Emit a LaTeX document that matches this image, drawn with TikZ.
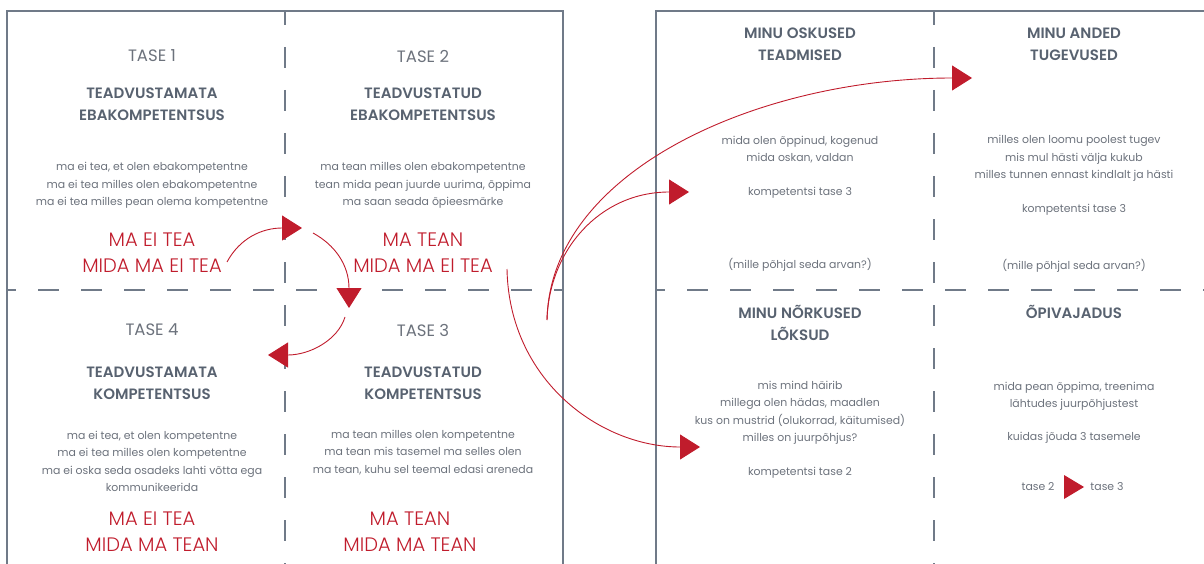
\documentclass[tikz,border=0pt]{standalone}
\usepackage{fontspec}
\setmainfont{Poppins}[BoldFont={* SemiBold}]
\newfontfamily\thinfont{Poppins Light}
\usetikzlibrary{arrows.meta}
\definecolor{framec}{RGB}{112,122,136}
\definecolor{headc}{RGB}{88,98,112}
\definecolor{bodyc}{RGB}{108,114,124}
\definecolor{accent}{RGB}{192,28,44}
\tikzset{
  panel/.style={line width=2pt, draw=framec},
  divider/.style={line width=2pt, draw=framec, dash pattern=on 21pt off 22pt},
  level/.style={text=bodyc, font=\fontsize{16.5}{18}\selectfont, inner sep=0pt},
  heading/.style={text=headc, font=\bfseries\fontsize{15}{22}\selectfont, align=center, inner sep=0pt},
  body/.style={text=bodyc, font=\fontsize{10.9}{17.5}\selectfont, align=center, inner sep=0pt},
  motto/.style={text=accent, font=\thinfont\fontsize{19.5}{26}\selectfont, align=center, inner sep=0pt},
  flow/.style={draw=accent, line width=0.9pt, -{Triangle[length=20pt,width=25pt]}},
  marker/.style={fill=accent},
}
\begin{document}
\begin{tikzpicture}[x=1pt,y=-1pt]
\useasboundingbox (0,0) rectangle (1204,564);

% ---------- left panel: four levels of competence ----------
\draw[panel] (7,564) -- (7,11) -- (563,11) -- (563,564);
\draw[divider, dash phase=7pt] (285,11) -- (285,564);
\draw[divider, dash phase=12pt] (7,290) -- (563,290);

% level 1
\node[level] (l1) at (152,56) {TASE 1};
\node[heading] (h1) at (152,104) {TEADVUSTAMATA\\EBAKOMPETENTSUS};
\node[body] (b1) at (152,185.5) {ma ei tea, et olen ebakompetentne\\ma ei tea milles olen ebakompetentne\\ma ei tea milles pean olema kompetentne};
\node[motto] (m1) at (152,252.5) {MA EI TEA\\MIDA MA EI TEA};

% level 2
\node[level] (l2) at (423,56) {TASE 2};
\node[heading] (h2) at (423,104) {TEADVUSTATUD\\EBAKOMPETENTSUS};
\node[body] (b2) at (423,185.5) {ma tean milles olen ebakompetentne\\tean mida pean juurde uurima, õppima\\ma saan seada õpieesmärke};
\node[motto] (m2) at (423,252.5) {MA TEAN\\MIDA MA EI TEA};

% level 4
\node[level] (l4) at (152,330) {TASE 4};
\node[heading] (h4) at (152,383.5) {TEADVUSTAMATA\\KOMPETENTSUS};
\node[body] (b4) at (152,461.5) {ma ei tea, et olen kompetentne\\ma ei tea milles olen kompetentne\\ma ei oska seda osadeks lahti võtta ega\\kommunikeerida};
\node[motto] (m4) at (152,532) {MA EI TEA\\MIDA MA TEAN};

% level 3
\node[level] (l3) at (423,330) {TASE 3};
\node[heading] (h3) at (423,383.5) {TEADVUSTATUD\\KOMPETENTSUS};
\node[body] (b3) at (423,452.5) {ma tean milles olen kompetentne\\ma tean mis tasemel ma selles olen\\ma tean, kuhu sel teemal edasi areneda};
\node[motto] (m3) at (410,531.5) {MA TEAN\\MIDA MA TEAN};

% ---------- right panel: self assessment ----------
\draw[panel] (656,564) -- (656,11) -- (1204,11);
\draw[divider, dash phase=7pt] (934,11) -- (934,564);
\draw[divider, dash phase=12pt] (656,290) -- (1204,290);

\node[heading] (hs) at (800,44) {MINU OSKUSED\\TEADMISED};
\node[body] (bs) at (800,149.5) {mida olen õppinud, kogenud\\mida oskan, valdan};
\node[body] (ks) at (800,193) {kompetentsi tase 3};
\node[body] (qs) at (800,265) {(mille põhjal seda arvan?)};

\node[heading] (ht) at (1074,44) {MINU ANDED\\TUGEVUSED};
\node[body] (bt) at (1074,158.5) {milles olen loomu poolest tugev\\mis mul hästi välja kukub\\milles tunnen ennast kindlalt ja hästi};
\node[body] (kt) at (1074,210) {kompetentsi tase 3};
\node[body] (qt) at (1074,266) {(mille põhjal seda arvan?)};

\node[heading] (hw) at (800,322.5) {MINU NÕRKUSED\\LÕKSUD};
\node[body] (bw) at (800,412.75) {mis mind häirib\\millega olen hädas, maadlen\\kus on mustrid (olukorrad, käitumised)\\milles on juurpõhjus?};
\node[body] (kw) at (800,473) {kompetentsi tase 2};

\node[heading] (hn) at (1074,312) {ÕPIVAJADUS};
\node[body] (bn) at (1074,396.5) {mida pean õppima, treenima\\lähtudes juurpõhjustest};
\node[body] (kn) at (1074,438) {kuidas jõuda 3 tasemele};
\node[body] (t2) at (1038,487) {tase 2};
\node[body] (t3) at (1107,487) {tase 3};
\fill[marker] (1064,475) -- (1084,487) -- (1064,499) -- cycle;

% ---------- connectors ----------
\coordinate (c1s) at (227,262);
\coordinate (c1e) at (302,228);
\coordinate (c2s) at (313,233);
\coordinate (c2e) at (349,308);
\coordinate (c3s) at (345,317);
\coordinate (c3e) at (268,355);
\coordinate (fan) at (547,320);
\coordinate (toTalent) at (972,78);
\coordinate (toSkill) at (689,192);
\coordinate (c4s) at (507,269);
\coordinate (toWeak) at (700,447);

\draw[flow] (c1s) .. controls (240,238) and (262,228) .. (c1e);
\draw[flow] (c2s) .. controls (335,245) and (349,265) .. (c2e);
\draw[flow] (c3s) .. controls (338,340) and (310,355) .. (c3e);
\draw[flow] (fan) .. controls (550,170) and (760,78) .. (toTalent);
\draw[flow] (fan) .. controls (549,250) and (600,192) .. (toSkill);
\draw[flow] (c4s) .. controls (509,380) and (600,447) .. (toWeak);
\end{tikzpicture}
\end{document}
